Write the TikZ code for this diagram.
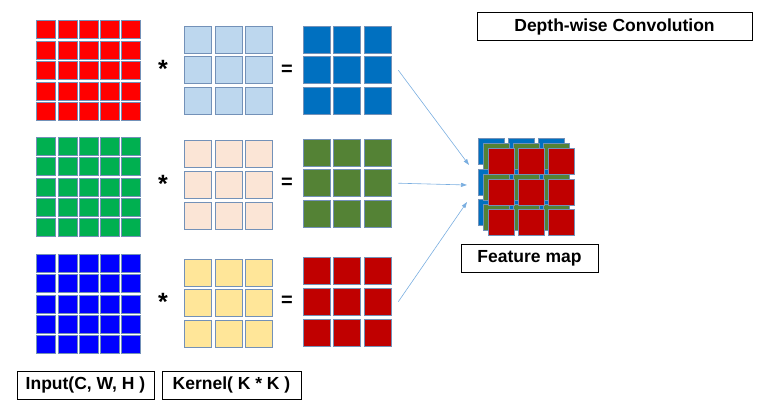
\documentclass[tikz,border=0pt]{standalone}
\usepackage{fontspec}
\setmainfont{Liberation Sans}
\usetikzlibrary{positioning, arrows.meta, calc}

\definecolor{inred}{HTML}{FF0000}
\definecolor{ingreen}{HTML}{00B050}
\definecolor{inblue}{HTML}{0000FF}
\definecolor{kerblue}{HTML}{BDD7EE}
\definecolor{kerpeach}{HTML}{FBE5D6}
\definecolor{keryellow}{HTML}{FFE699}
\definecolor{outblue}{HTML}{0070C0}
\definecolor{outgreen}{HTML}{548235}
\definecolor{outred}{HTML}{C00000}
\definecolor{cellline}{HTML}{7391B8}
\definecolor{arrowblue}{HTML}{7AAEE0}

\newcommand{\boxfont}{\fontsize{17.5}{20}\selectfont\bfseries}

\begin{document}
\begin{tikzpicture}[
    x=1pt, y=-1pt,
    cell/.style={rectangle, draw=cellline, line width=0.5pt, inner sep=0pt, outer sep=0pt},
    incell/.style={cell, minimum width=19pt, minimum height=18pt},
    bigcell/.style={cell, minimum size=27pt},
    fmcell/.style={cell, minimum size=26pt},
    opNode/.style={inner sep=0pt, font=\fontsize{20}{20}\selectfont\bfseries},
    labelBox/.style={rectangle, draw=black, line width=0.8pt, inner sep=0pt, minimum height=28pt, font=\boxfont, align=center},
    flow/.style={draw=arrowblue, line width=0.6pt, -{Triangle[length=6pt, width=4pt]}}
]
    \useasboundingbox (0,0) rectangle (769,420);

    % Three channels: input * kernel = output
    \foreach \r/\iy/\ky/\oy/\ic/\kc/\oc in {
        1/29.7/39.5/39.5/inred/kerblue/outblue,
        2/146/154/152.5/ingreen/kerpeach/outgreen,
        3/263/272.5/271/inblue/keryellow/outred}{
        \foreach \i in {1,...,5}
            \foreach \j in {1,...,5}
                \node[incell, fill=\ic] (in\r-\i-\j) at ({46.2+21.25*(\j-1)}, {\iy+20.4*(\i-1)}) {};
        \foreach \i in {1,2,3}
            \foreach \j in {1,2,3}{
                \node[bigcell, fill=\kc] (ker\r-\i-\j) at ({197.8+30.7*(\j-1)}, {\ky+30.7*(\i-1)}) {};
                \node[bigcell, fill=\oc] (out\r-\i-\j) at ({316.4+30.7*(\j-1)}, {\oy+30.7*(\i-1)}) {};
            }
        \node[opNode, font=\fontsize{25}{25}\selectfont\bfseries] (star\r) at (163, {\ky+30.7-1}) {*};
        \node[opNode] (eq\r) at (287, {\oy+30.7}) {=};
    }

    % Stacked feature map
    \foreach \l/\d/\c in {b/-10/outblue, g/-5/outgreen, r/0/outred}
        \foreach \i in {1,2,3}
            \foreach \j in {1,2,3}
                \node[fmcell, fill=\c] (fm\l-\i-\j) at ({501.3+30*(\j-1)+\d}, {161.3+30.5*(\i-1)+\d}) {};

    % Arrow targets
    \coordinate (fmin1) at (469,165);
    \coordinate (fmin2) at (467,185);
    \coordinate (fmin3) at (467,202);

    % Connecting arrows
    \draw[flow] ([xshift=7pt]out1-2-3.east) -- (fmin1);
    \draw[flow] ([xshift=7pt]out2-2-3.east) -- (fmin2);
    \draw[flow] ([xshift=7pt]out3-2-3.east) -- (fmin3);

    % Labels
    \node[labelBox, minimum width=275pt] (title) at (614.5,26.5) {Depth-wise Convolution};
    \node[labelBox, minimum width=137pt] (fmlabel) at (529.5,258.5) {Feature map};
    \node[labelBox, minimum width=137pt] (inlabel) at (85.5,385) {Input(C, W, H )};
    \node[labelBox, minimum width=139pt] (kerlabel) at (231.5,385) {Kernel( K * K )};

\end{tikzpicture}
\end{document}
